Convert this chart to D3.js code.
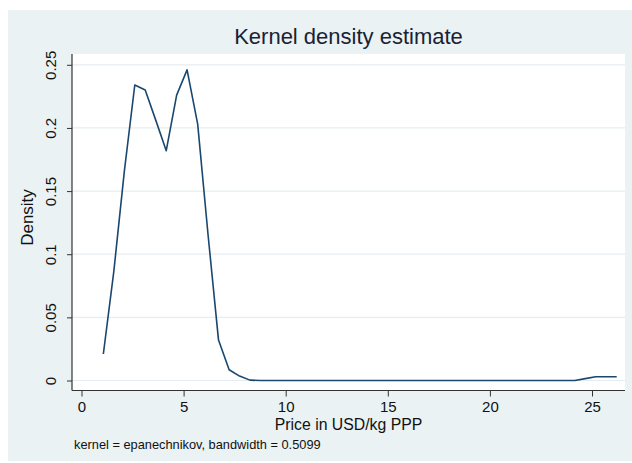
<!DOCTYPE html>
<html>
<head>
<meta charset="utf-8">
<script src="https://cdn.jsdelivr.net/npm/d3@7"></script>
<style>
  html, body { margin: 0; padding: 0; background: #ffffff; }
  svg { display: block; }
  text { font-family: "Liberation Sans", Arial, Helvetica, sans-serif; }
</style>
</head>
<body>
<svg id="chart" width="632" height="463"></svg>
<script>
// ---- data ----
const priceGrid = [1.07, 1.58, 2.10, 2.61, 3.12, 3.64, 4.15, 4.66, 5.17, 5.69,
  6.20, 6.71, 7.23, 7.74, 8.25, 8.77, 9.28, 9.79, 10.30, 10.82,
  11.33, 11.84, 12.36, 12.87, 13.38, 13.90, 14.41, 14.92, 15.43, 15.95,
  16.46, 16.97, 17.49, 18.00, 18.51, 19.03, 19.54, 20.05, 20.56, 21.08,
  21.59, 22.10, 22.62, 23.13, 23.64, 24.16, 24.67, 25.18, 25.70, 26.21];
const densityValues = [0.021, 0.086, 0.166, 0.234, 0.230, 0.206, 0.182, 0.226, 0.246, 0.203,
  0.115, 0.032, 0.0085, 0.0035, 0.0003, 0, 0, 0, 0, 0,
  0, 0, 0, 0, 0, 0, 0, 0, 0, 0,
  0, 0, 0, 0, 0, 0, 0, 0, 0, 0,
  0, 0, 0, 0, 0, 0, 0.0015, 0.003, 0.003, 0.003];
const xTicks = [0, 5, 10, 15, 20, 25];
const yTicks = [0, 0.05, 0.1, 0.15, 0.2, 0.25];
const yTickLabels = ["0", "0.05", "0.1", "0.15", "0.2", "0.25"];
const titleText = "Kernel density estimate";
const xTitle = "Price in USD/kg PPP";
const yTitle = "Density";
const noteText = "kernel = epanechnikov, bandwidth = 0.5099";

// ---- layout ----
const W = 632, H = 463;
const plot = { left: 72, right: 625, top: 54, bottom: 390.5 };
const bg = "#eaf2f3";
const lineColor = "#1a476f";

const svg = d3.select("#chart");

svg.append("rect").attr("x", 8).attr("y", 10).attr("width", W - 8).attr("height", H - 12)
  .attr("fill", bg);
svg.append("rect").attr("x", plot.left).attr("y", plot.top)
  .attr("width", plot.right - plot.left).attr("height", plot.bottom - plot.top)
  .attr("fill", "#ffffff");

const x = d3.scaleLinear().domain([0, 25]).range([81.5, 592]);
const y = d3.scaleLinear().domain([0, 0.25]).range([380.5, 64.8]);

// gridlines
svg.append("g").selectAll("line").data(yTicks).join("line")
  .attr("x1", plot.left).attr("x2", plot.right)
  .attr("y1", d => y(d)).attr("y2", d => y(d))
  .attr("stroke", "#e4edf0").attr("stroke-width", 1.2);

// y axis
const yAxis = d3.axisLeft(y).tickValues(yTicks)
  .tickFormat((d, i) => yTickLabels[i]).tickSize(5).tickPadding(6).tickSizeOuter(0);
const gy = svg.append("g").attr("transform", `translate(${plot.left},0)`).call(yAxis);
gy.select(".domain").remove();
gy.selectAll(".tick line").attr("stroke", "#333").attr("stroke-width", 1);
gy.selectAll(".tick text")
  .attr("font-size", 15).attr("fill", "#111")
  .attr("text-anchor", "middle")
  .attr("transform", "translate(-21,0) rotate(-90)")
  .attr("x", 0).attr("dy", "0.35em");

// x axis
const xAxis = d3.axisBottom(x).tickValues(xTicks).tickSize(6).tickPadding(5).tickSizeOuter(0);
const gx = svg.append("g").attr("transform", `translate(0,${plot.bottom})`).call(xAxis);
gx.select(".domain").remove();
gx.selectAll(".tick line").attr("stroke", "#333").attr("stroke-width", 1);
gx.selectAll(".tick text").attr("font-size", 15).attr("fill", "#111");

// axis lines
svg.append("line").attr("x1", plot.left).attr("x2", plot.left)
  .attr("y1", plot.top).attr("y2", plot.bottom)
  .attr("stroke", "#333").attr("stroke-width", 1.2);
svg.append("line").attr("x1", plot.left).attr("x2", plot.right)
  .attr("y1", plot.bottom).attr("y2", plot.bottom)
  .attr("stroke", "#333").attr("stroke-width", 1.2);

// density line
const pts = priceGrid.map((p, i) => [p, densityValues[i]]);
svg.append("path").datum(pts)
  .attr("fill", "none").attr("stroke", lineColor).attr("stroke-width", 1.6)
  .attr("stroke-linejoin", "round")
  .attr("d", d3.line().x(d => x(d[0])).y(d => y(d[1])));

// titles
svg.append("text").attr("x", (plot.left + plot.right) / 2).attr("y", 44)
  .attr("text-anchor", "middle").attr("font-size", 22).attr("fill", "#1a2233")
  .text(titleText);
svg.append("text").attr("x", (plot.left + plot.right) / 2).attr("y", 429.5)
  .attr("text-anchor", "middle").attr("font-size", 15.8).attr("fill", "#111")
  .text(xTitle);
svg.append("text").attr("transform", "translate(32.5,217.5) rotate(-90)")
  .attr("text-anchor", "middle").attr("font-size", 17).attr("fill", "#111")
  .text(yTitle);
svg.append("text").attr("x", 74).attr("y", 449)
  .attr("font-size", 12.8).attr("fill", "#111")
  .text(noteText);
</script>
</body>
</html>
